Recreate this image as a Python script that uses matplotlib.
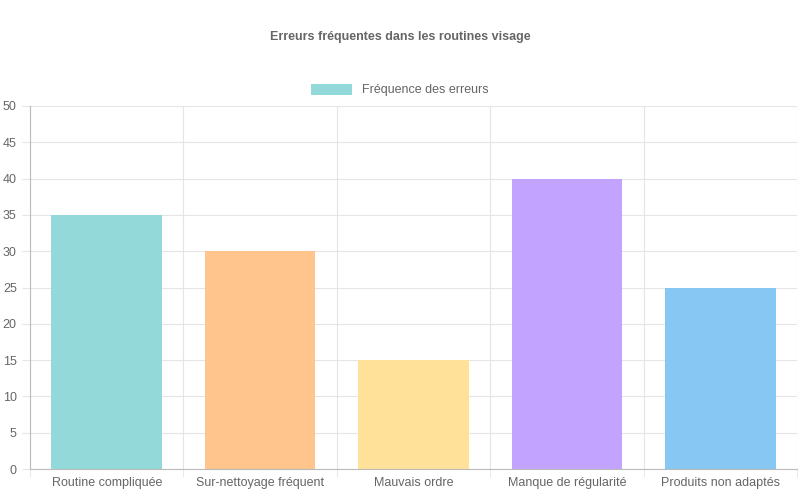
import matplotlib
matplotlib.use("Agg")
import matplotlib.pyplot as plt
from matplotlib.patches import Patch

categories = ["Routine compliquée", "Sur-nettoyage fréquent", "Mauvais ordre", "Manque de régularité", "Produits non adaptés"]
values = [35, 30, 15, 40, 25]
colors = ["#93d9d9", "#ffc58c", "#ffe19a", "#c2a3ff", "#86c7f3"]
plt.rcParams['font.family'] = ['Liberation Sans', 'DejaVu Sans']

fig = plt.figure(figsize=(8, 5), dpi=100)
ax = fig.add_axes([30/800, 31/500, 767/800, 363/500])
x = range(len(categories))
ax.bar(x, values, width=0.72, color=colors, zorder=2)
ax.set_xlim(-0.5, len(categories) - 0.5)
ax.set_ylim(0, 50)
ax.set_yticks(range(0, 51, 5))
ax.set_xticks(list(x))
ax.set_xticklabels(categories)
ax.set_xticks([i + 0.5 for i in range(-1, len(categories))], minor=True)
ax.grid(True, which='minor', axis='x', color='#e5e5e5', lw=0.8, zorder=0)
ax.grid(True, which='major', axis='y', color='#e5e5e5', lw=0.8, zorder=0)
ax.tick_params(axis='x', which='major', length=0, pad=6, labelsize=9, labelcolor='#666666')
ax.tick_params(axis='x', which='minor', length=6, color='#e5e5e5')
ax.tick_params(axis='y', length=6, color='#e5e5e5', labelsize=9, labelcolor='#666666')
for s in ['top', 'right']:
    ax.spines[s].set_visible(False)
for s in ['left', 'bottom']:
    ax.spines[s].set_color('#bbbbbb')
fig.text(0.5, 463/500, "Erreurs fréquentes dans les routines visage", ha='center', va='center',
         fontsize=9, fontweight='bold', color='#666666')
fig.legend(handles=[Patch(facecolor=colors[0], label="Fréquence des erreurs")],
           loc='center', bbox_to_anchor=(0.5, 410/500), frameon=False, fontsize=9,
           labelcolor='#666666', handlelength=3.3, handleheight=1.0)
fig.savefig("out.png", dpi=100)
